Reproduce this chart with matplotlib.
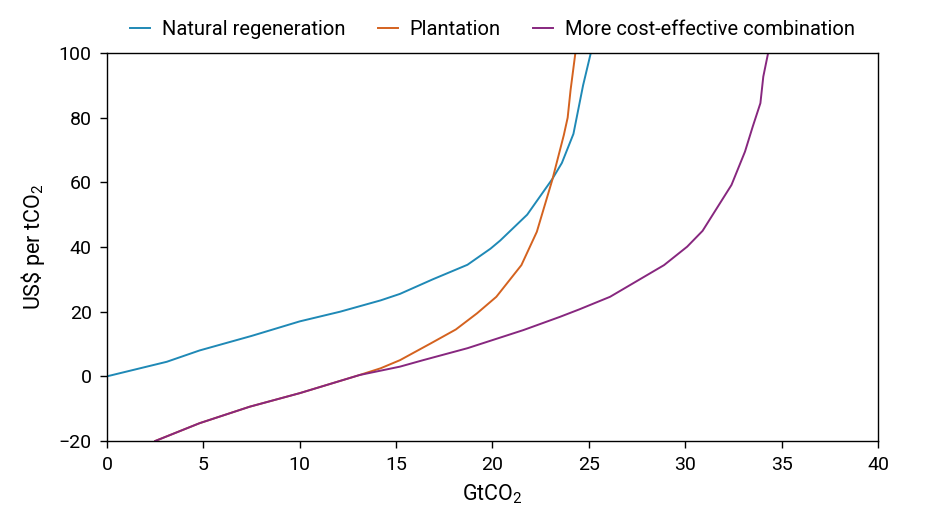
import matplotlib
matplotlib.use('Agg')
import matplotlib.pyplot as plt

plt.rcParams['font.family'] = ['Roboto', 'DejaVu Sans']
plt.rcParams['mathtext.fontset'] = 'custom'
plt.rcParams['mathtext.rm'] = 'Roboto'
plt.rcParams['mathtext.default'] = 'regular'

# natural regeneration
nat_x = [0, 0, 3.1, 4.8, 7.5, 10, 12.1, 14.2, 15.2, 16.9, 18.7, 19.9, 20.4,
         21.8, 23.1, 23.6, 24.2, 24.7, 25.1]
nat_y = [-20, 0, 4.5, 8, 12.5, 17, 20, 23.5, 25.5, 30, 34.5, 39.5, 42,
         50, 61, 66, 75, 90, 100]

# plantation
plant_x = [2.5, 4.8, 7.4, 10, 13.1, 14.2, 15.2, 16.8, 18.1, 19.2, 20.2, 21.5,
           22.3, 23.1, 23.7, 23.9, 24.05, 24.3]
plant_y = [-20, -14.5, -9.4, -5.2, 0.4, 2.5, 5, 10.2, 14.5, 19.5, 24.6, 34.4,
           44.7, 60.7, 74.6, 80, 88.5, 100]

# more cost-effective combination
comb_x = [2.5, 4.8, 7.4, 10, 13.1, 15.2, 16.4, 18.7, 21.6, 23.5, 24.5, 26.1,
          28.9, 30.1, 30.9, 32.4, 33.1, 33.5, 33.9, 34.05, 34.3]
comb_y = [-20, -14.5, -9.4, -5.2, 0.4, 3, 5, 8.7, 14.3, 18.4, 20.7, 24.6,
          34.4, 40.1, 45, 59.2, 69.5, 77.2, 84.5, 92.7, 100]

fig = plt.figure(figsize=(9.28, 5.26), dpi=100)
ax = fig.add_axes([0.1153, 0.1616, 0.8308, 0.7376])

ax.plot(nat_x, nat_y, color='#1f89b6', lw=1.4, label='Natural regeneration')
ax.plot(plant_x, plant_y, color='#d4621f', lw=1.4, label='Plantation')
ax.plot(comb_x, comb_y, color='#87277f', lw=1.4,
        label='More cost-effective combination')

ax.set_xlim(0, 40)
ax.set_ylim(-20, 100)
ax.set_xticks(range(0, 41, 5))
ax.set_yticks(range(-20, 101, 20))
ax.tick_params(labelsize=14, length=5, width=1, direction='out', pad=6)
for s in ax.spines.values():
    s.set_linewidth(1)

ax.set_xlabel('GtCO$_2$', fontsize=15.5, labelpad=6)
ax.set_ylabel(r'US\$ per tCO$_2$', fontsize=15.5, labelpad=8)

ax.legend(loc='lower center', bbox_to_anchor=(0.5, 1.0), ncol=3,
          frameon=False, fontsize=14.5, handlelength=1.0, columnspacing=1.6,
          handletextpad=0.6, borderaxespad=0.3)

fig.savefig('out.png', dpi=100)
